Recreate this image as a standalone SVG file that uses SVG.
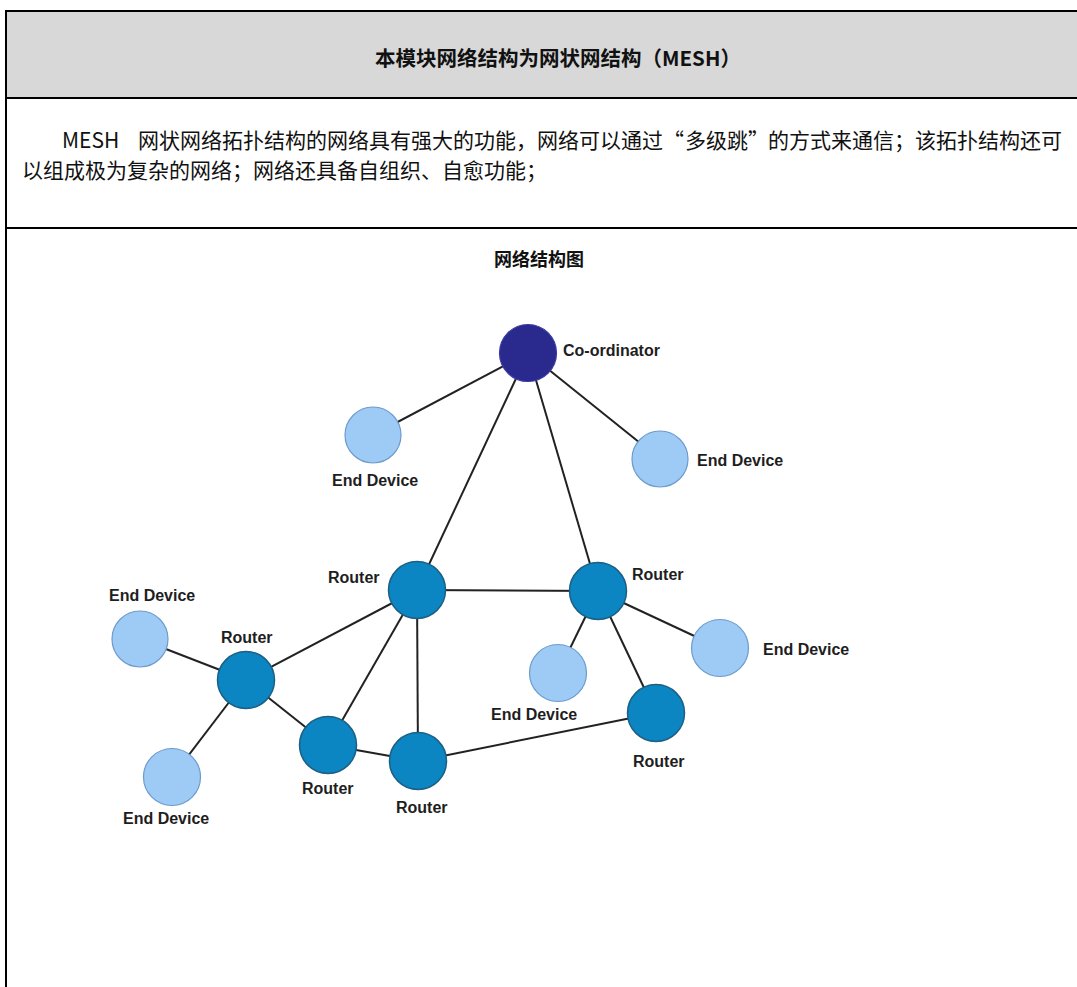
<svg xmlns="http://www.w3.org/2000/svg" width="1077" height="987" viewBox="0 0 1077 987">
<style>
.cn{font-family:"Microsoft YaHei","Noto Sans CJK SC","Noto Sans",sans-serif;fill:#111}
.b{font-weight:bold}
.lbl{font-family:"Liberation Sans",Arial,sans-serif;font-size:16px;font-weight:bold;fill:#1e1e1e}
.edge{stroke:#222;stroke-width:2;fill:none}
.coord{fill:#29298e;stroke:#3a3aa6;stroke-width:1.2}
.router{fill:#0b86c2;stroke:#1c5f85;stroke-width:1.5}
.end{fill:#9dcbf6;stroke:#6c9bcb;stroke-width:1.2}
.grid{stroke:#000;stroke-width:2;fill:none}
</style>
<rect x="0" y="0" width="1077" height="987" fill="#fff"/>
<g id="table">
<rect x="6" y="12" width="1080" height="86" fill="#d8d8d8"/>
<line class="grid" x1="6" y1="11" x2="1077" y2="11"/>
<line class="grid" x1="6" y1="98" x2="1077" y2="98"/>
<line class="grid" x1="6" y1="228" x2="1077" y2="228"/>
<line class="grid" x1="6" y1="10" x2="6" y2="987"/>
</g>
<g id="title">
<text class="cn b" x="375" y="66" font-size="20.5">本模块网络结构为网状网结构（MESH）</text>
</g>
<g id="body-text">
<text class="cn" font-size="21" y="148"><tspan x="62">MESH</tspan><tspan x="138">网状网络拓扑结构的网络具有强大的功能，网络可以通过</tspan><tspan x="663">“</tspan><tspan x="685">多级跳</tspan><tspan x="748">”</tspan><tspan x="768">的方式来通信；该拓扑结构还可</tspan></text>
<text class="cn" font-size="21" x="22" y="178">以组成极为复杂的网络；网络还具备自组织、自愈功能；</text>
</g>
<g id="subtitle">
<text class="cn b" x="539" y="266" font-size="18" text-anchor="middle">网络结构图</text>
</g>
<g id="connectors">
<line class="edge" x1="528" y1="353" x2="373" y2="435"/>
<line class="edge" x1="528" y1="353" x2="660" y2="459"/>
<line class="edge" x1="528" y1="353" x2="417" y2="590"/>
<line class="edge" x1="528" y1="353" x2="598" y2="591"/>
<line class="edge" x1="417" y1="590" x2="598" y2="591"/>
<line class="edge" x1="417" y1="590" x2="246" y2="680"/>
<line class="edge" x1="417" y1="590" x2="328" y2="745"/>
<line class="edge" x1="417" y1="590" x2="418" y2="761"/>
<line class="edge" x1="246" y1="680" x2="140" y2="639"/>
<line class="edge" x1="246" y1="680" x2="172" y2="777"/>
<line class="edge" x1="246" y1="680" x2="328" y2="745"/>
<line class="edge" x1="328" y1="745" x2="418" y2="761"/>
<line class="edge" x1="418" y1="761" x2="656" y2="713"/>
<line class="edge" x1="598" y1="591" x2="558" y2="673"/>
<line class="edge" x1="598" y1="591" x2="720" y2="648"/>
<line class="edge" x1="598" y1="591" x2="656" y2="713"/>
</g>
<g id="coordinator"><circle class="coord" cx="528" cy="353" r="28.5"/><text class="lbl" x="563" y="356">Co-ordinator</text></g>
<g id="end-top-left"><circle class="end" cx="373" cy="435" r="28"/><text class="lbl" x="332" y="486">End Device</text></g>
<g id="end-top-right"><circle class="end" cx="660" cy="459" r="28"/><text class="lbl" x="697" y="466">End Device</text></g>
<g id="router-center-left"><circle class="router" cx="417" cy="590" r="28.5"/><text class="lbl" x="328" y="583">Router</text></g>
<g id="router-center-right"><circle class="router" cx="598" cy="591" r="28.5"/><text class="lbl" x="632" y="580">Router</text></g>
<g id="end-far-left"><circle class="end" cx="140" cy="639" r="28"/><text class="lbl" x="109" y="601">End Device</text></g>
<g id="router-left"><circle class="router" cx="246" cy="680" r="28.5"/><text class="lbl" x="221" y="643">Router</text></g>
<g id="end-right"><circle class="end" cx="720" cy="648" r="28.5"/><text class="lbl" x="763" y="655">End Device</text></g>
<g id="end-middle"><circle class="end" cx="558" cy="673" r="28.5"/><text class="lbl" x="491" y="720">End Device</text></g>
<g id="router-lower-right"><circle class="router" cx="656" cy="713" r="28.5"/><text class="lbl" x="633" y="767">Router</text></g>
<g id="router-bottom-left"><circle class="router" cx="328" cy="745" r="28.5"/><text class="lbl" x="302" y="794">Router</text></g>
<g id="router-bottom"><circle class="router" cx="418" cy="761" r="28.5"/><text class="lbl" x="396" y="813">Router</text></g>
<g id="end-bottom-left"><circle class="end" cx="172" cy="777" r="28.5"/><text class="lbl" x="123" y="824">End Device</text></g>
</svg>
